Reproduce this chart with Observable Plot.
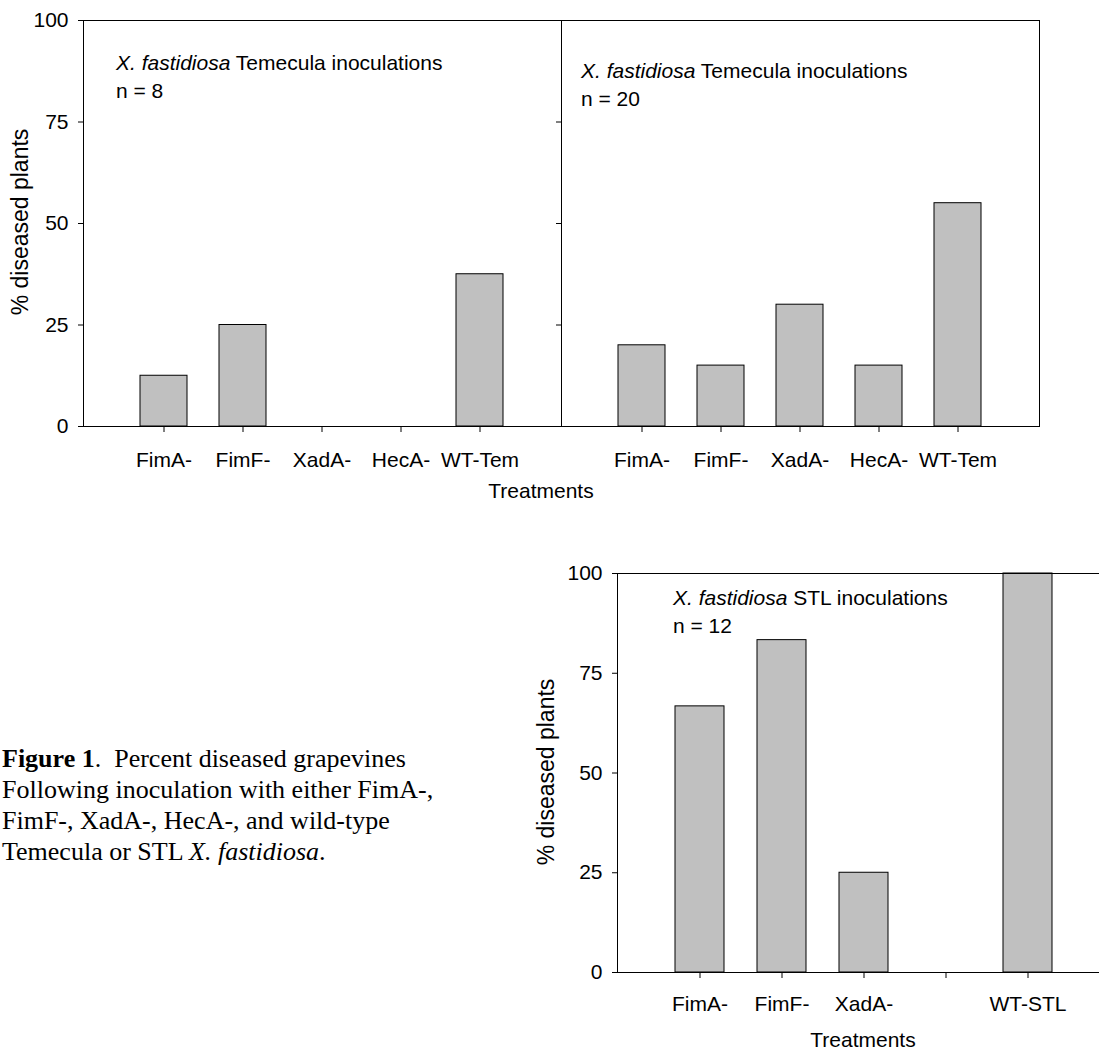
<!DOCTYPE html>
<html><head><meta charset="utf-8">
<script src="https://cdn.jsdelivr.net/npm/d3@7"></script>
<script src="https://cdn.jsdelivr.net/npm/@observablehq/plot@0.6"></script>
<style>
html,body{margin:0;padding:0;background:#fff;overflow:hidden;width:1099px;height:1051px;}
#root{position:relative;width:1099px;height:1051px;overflow:hidden;}
.abs{position:absolute;}
svg{max-width:none !important;}
</style></head><body><div id="root"></div>
<script>
// ---- data ----
const temCategories = ["FimA-", "FimF-", "XadA-", "HecA-", "WT-Tem"];
const temN8Values = [12.5, 25, 0, 0, 37.5];
const temN20Values = [20, 15, 30, 15, 55];
const stlCategories = ["FimA-", "FimF-", "XadA-", "HecA-", "WT-STL"];
const stlTickLabels = ["FimA-", "FimF-", "XadA-", "", "WT-STL"];
const stlN12Values = [66.7, 83.3, 25, 0, 100];
const yTicks = [0, 25, 50, 75, 100];
const yTitle = "% diseased plants";
const xTitle = "Treatments";

const FONT = "'Liberation Sans', Arial, sans-serif";
const root = document.getElementById("root");

function panel({cats, values, labels, width, height, mL, mR, mT, mB, showY, padX}) {
  const data = cats.map((c, i) => ({c, v: values[i]}));
  return Plot.plot({
    width, height, marginLeft: mL, marginRight: mR, marginTop: mT, marginBottom: mB,
    style: {fontFamily: FONT, fontSize: "21px", color: "#000", background: "transparent", overflow: "visible"},
    x: {domain: cats, paddingInner: 0.4, paddingOuter: 0.7, tickSize: 6, tickPadding: padX,
        tickFormat: d => labels[cats.indexOf(d)], label: null},
    y: {domain: [0, 100], ticks: yTicks, tickSize: 5, tickPadding: 10,
        tickFormat: showY ? (d => String(d)) : (() => ""), label: null},
    marks: [
      Plot.barY(data, {x: "c", y: "v", fill: "#c0c0c0", stroke: "#000", strokeWidth: 1}),
      Plot.frame({stroke: "#000", strokeWidth: 1})
    ]
  });
}

function place(el, left, top) {
  const d = document.createElement("div");
  d.className = "abs";
  d.style.left = left + "px";
  d.style.top = top + "px";
  d.appendChild(el);
  root.appendChild(d);
}

// top-left panel (n = 8)
place(panel({cats: temCategories, values: temN8Values, labels: temCategories,
  width: 562, height: 480, mL: 83, mR: 1, mT: 20, mB: 54, showY: true, padX: 20}), 0, 0);
// top-right panel (n = 20)
place(panel({cats: temCategories, values: temN20Values, labels: temCategories,
  width: 498, height: 480, mL: 10, mR: 10, mT: 20, mB: 54, showY: false, padX: 20}), 551, 0);
// bottom panel (STL n = 12)
place(panel({cats: stlCategories, values: stlN12Values, labels: stlTickLabels,
  width: 563, height: 469, mL: 60, mR: 10, mT: 10, mB: 60, showY: true, padX: 18}), 557, 563);

// ---- text overlay ----
const ov = d3.select(root).append("svg")
  .attr("class", "abs").style("left", "0px").style("top", "0px")
  .attr("width", 1099).attr("height", 1051)
  .style("pointer-events", "none").style("overflow", "visible");

function sans(x, y, size, anchor) {
  return ov.append("text").attr("x", x).attr("y", y)
    .attr("font-family", FONT).attr("font-size", size).attr("fill", "#000")
    .attr("text-anchor", anchor || "start");
}
function note(x, y, strain, n) {
  const t = sans(x, y, 21);
  t.append("tspan").attr("font-style", "italic").text("X. fastidiosa");
  t.append("tspan").text(" " + strain + " inoculations");
  sans(x, y + 28, 21).text("n = " + n);
}
note(116, 70, "Temecula", 8);
note(581, 78, "Temecula", 20);
note(673, 605, "STL", 12);

sans(541, 498, 21, "middle").text(xTitle);
sans(863, 1047, 21, "middle").text(xTitle);
sans(0, 0, 23, "middle").attr("transform", "translate(28,222) rotate(-90)").text(yTitle);
sans(0, 0, 23, "middle").attr("transform", "translate(554,772) rotate(-90)").text(yTitle);

// caption
const SERIF = "'Liberation Serif', 'Times New Roman', serif";
const capLines = [
  [["Figure 1", "bold"], [".  Percent diseased grapevines", ""]],
  [["Following inoculation with either FimA-,", ""]],
  [["FimF-, XadA-, HecA-, and wild-type", ""]],
  [["Temecula or STL ", ""], ["X. fastidiosa", "italic"], [".", ""]]
];
capLines.forEach((parts, i) => {
  const t = ov.append("text").attr("x", 2).attr("y", 767 + i * 31)
    .attr("font-family", SERIF).attr("font-size", 26).attr("fill", "#000")
    .attr("xml:space", "preserve").style("white-space", "pre");
  parts.forEach(([s, st]) => {
    const sp = t.append("tspan").text(s);
    if (st === "bold") sp.attr("font-weight", "bold");
    if (st === "italic") sp.attr("font-style", "italic");
  });
});
</script></body></html>
